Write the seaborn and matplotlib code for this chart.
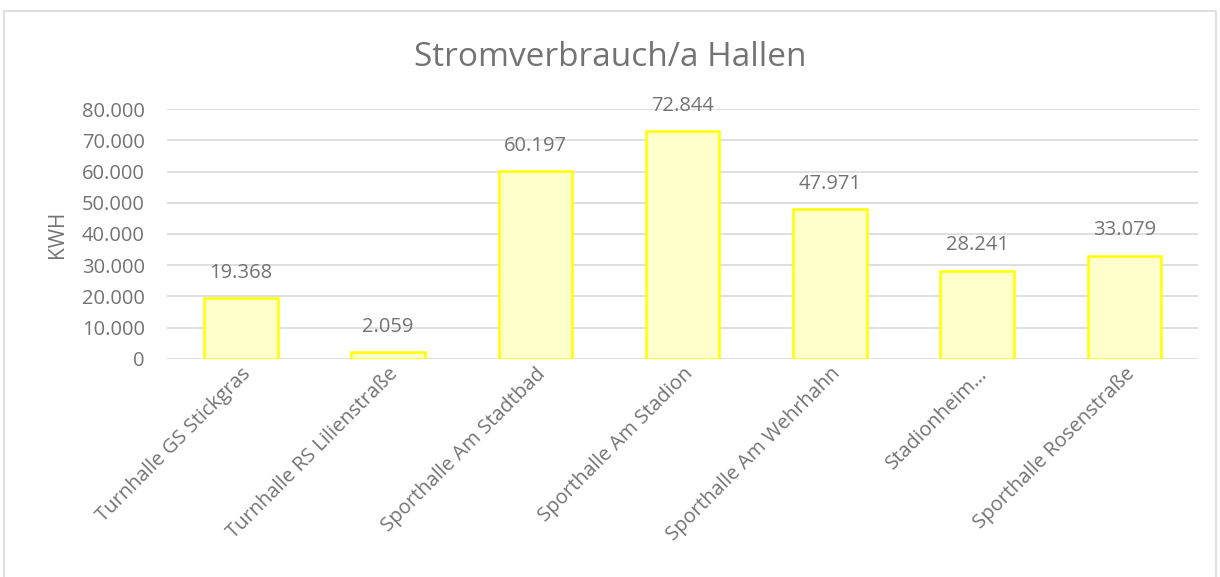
import matplotlib
matplotlib.use("Agg")
import matplotlib.pyplot as plt
import pandas as pd
import seaborn as sns
from matplotlib.patches import Rectangle
from matplotlib.ticker import FuncFormatter

halls = ["Turnhalle GS Stickgras", "Turnhalle RS Lilienstraße", "Sporthalle Am Stadtbad",
         "Sporthalle Am Stadion", "Sporthalle Am Wehrhahn", "Stadionheim…",
         "Sporthalle Rosenstraße"]
kwh = [19368, 2059, 60197, 72844, 47971, 28241, 33079]

df = pd.DataFrame({"halle": halls, "kwh": kwh})

sns.set_style("white")
plt.rcParams["font.family"] = ["Open Sans", "DejaVu Sans"]
grey = "#737373"

fig = plt.figure(figsize=(12.2, 5.77), dpi=100)
ax = fig.add_axes([0.137, 0.378, 0.845, 0.433])

sns.barplot(data=df, x="halle", y="kwh", ax=ax, color="#FFFFCC", width=0.5,
            edgecolor="#FFFF00", linewidth=1.8, saturation=1)

def dots(v, pos=None):
    return f"{int(round(v)):,}".replace(",", ".")

for p, v in zip(ax.patches, kwh):
    ax.annotate(dots(v), (p.get_x() + p.get_width() / 2, v), xytext=(0, 11),
                textcoords="offset points", ha="center", va="bottom",
                fontsize=14.5, color=grey)

ax.set_ylim(0, 80000)
ax.set_yticks(range(0, 80001, 10000))
ax.yaxis.set_major_formatter(FuncFormatter(dots))
ax.grid(axis="y", color="#D9D9D9", linewidth=1.2)
ax.set_axisbelow(True)
for s in ax.spines.values():
    s.set_visible(False)
ax.tick_params(axis="both", length=0, colors=grey, labelsize=14.5)
ax.tick_params(axis="y", pad=16)
plt.setp(ax.get_xticklabels(), rotation=45, ha="right", rotation_mode="anchor")
ax.set_xlabel("")
ax.set_ylabel("KWH", color=grey, fontsize=15, labelpad=10)

fig.text(0.5, 0.9, "Stromverbrauch/a Hallen", color=grey, fontsize=24,
         ha="center", va="center")

fig.patches.append(Rectangle((0.003, -0.01), 0.994, 0.991, transform=fig.transFigure,
                             fill=False, edgecolor="#D9D9D9", linewidth=1.2))

fig.savefig("out.png", dpi=100)
